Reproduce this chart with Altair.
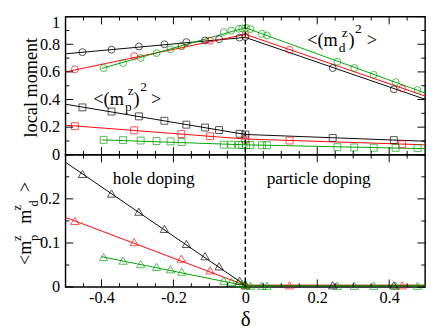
import altair as alt
import pandas as pd

FONT = "Liberation Serif"
W, H1, H2 = 375, 144, 138

# ---------------- data ----------------
# doping delta of each data point (three data sets: black, red, green)
x_black = [-0.453, -0.372, -0.296, -0.225, -0.164, -0.112, -0.073, -0.016, 0.0, 0.243, 0.413]
x_red = [-0.474, -0.309, -0.178, -0.098, 0.0, 0.123, 0.436]
x_green = [-0.394, -0.340, -0.291, -0.247, -0.208, -0.177, -0.060, -0.039, -0.018, -0.009,
           0.002, 0.014, 0.046, 0.060, 0.256, 0.303, 0.357, 0.418, 0.479]

# <(m_d^z)^2>  (circles)
md2_black = [0.743, 0.761, 0.784, 0.800, 0.816, 0.828, 0.837, 0.848, 0.853, 0.628, 0.474]
md2_red = [0.619, 0.715, 0.786, 0.826, 0.869, 0.761, 0.480]
md2_green = [0.628, 0.664, 0.701, 0.736, 0.763, 0.788, 0.888, 0.899, 0.912, 0.915,
             0.918, 0.910, 0.876, 0.864, 0.674, 0.628, 0.579, 0.526, 0.469]

# <(m_p^z)^2>  (squares)
mp2_black = [0.343, 0.313, 0.278, 0.246, 0.218, 0.197, 0.179, 0.152, 0.147, 0.122, 0.106]
mp2_red = [0.207, 0.177, 0.150, 0.134, 0.110, 0.103, 0.076]
mp2_green = [0.108, 0.106, 0.103, 0.099, 0.097, 0.092, 0.073, 0.073, 0.072, 0.071,
             0.070, 0.070, 0.069, 0.069, 0.055, 0.053, 0.051, 0.050, 0.048]

# <m_p^z m_d^z>  (triangles)
corr_black = [0.2565, 0.212, 0.171, 0.132, 0.098, 0.070, 0.047, 0.0145, 0.006, 0.004, 0.004]
corr_red = [0.150, 0.102, 0.0645, 0.038, 0.004, 0.004, 0.004]
corr_green = [0.068, 0.060, 0.052, 0.046, 0.0405, 0.035, 0.0145, 0.012, 0.009, 0.007,
              0.004, 0.003, 0.003, 0.003, 0.003, 0.003, 0.003, 0.003, 0.003]

# straight fit lines (vertices)
fit_x_black = [-0.5, 0.0, 0.5]
fit_x_red = [-0.5, 0.0, 0.5]
fit_x_green = [-0.40, 0.0, 0.5]
md2_fit_black = [0.731, 0.850, 0.402]
md2_fit_red = [0.600, 0.872, 0.425]
md2_fit_green = [0.625, 0.920, 0.447]
mp2_fit_black = [0.366, 0.147, 0.098]
mp2_fit_red = [0.214, 0.114, 0.072]
mp2_fit_green = [0.108, 0.072, 0.044]
corr_fit_black = [0.283, 0.004, 0.004]
corr_fit_red = [0.158, 0.004, 0.004]
corr_fit_green = [0.069, 0.003, 0.003]

# axis ticks
x_major = [-0.4, -0.2, 0.0, 0.2, 0.4]
x_minor = [-0.45, -0.35, -0.3, -0.25, -0.15, -0.1, -0.05, 0.05, 0.1, 0.15, 0.25, 0.3, 0.35, 0.45]
y_major_top = [0.0, 0.2, 0.4, 0.6, 0.8, 1.0]
y_minor_top = [0.1, 0.3, 0.5, 0.7, 0.9]
y_major_bot = [0.0, 0.1, 0.2, 0.3]
y_minor_bot = [0.05, 0.15, 0.25]
y_labels_top = [0.0, 0.2, 0.4, 0.6, 0.8, 1.0]
y_labels_bot = [0.0, 0.1, 0.2]

SERIES = ["black", "red", "green"]
COLORS = ["#000000", "#ff0000", "#00a000"]


def table(xs, ys_by_series, qty):
    rows = []
    for s, (xv, yv) in zip(SERIES, zip(xs, ys_by_series)):
        for i, (a, b) in enumerate(zip(xv, yv)):
            rows.append({"x": a, "y": b, "series": s, "qty": qty, "o": i})
    return pd.DataFrame(rows)


xs_pts = [x_black, x_red, x_green]
xs_fit = [fit_x_black, fit_x_red, fit_x_green]
top_pts = pd.concat([table(xs_pts, [md2_black, md2_red, md2_green], "md"),
                     table(xs_pts, [mp2_black, mp2_red, mp2_green], "mp")])
top_lines = pd.concat([table(xs_fit, [md2_fit_black, md2_fit_red, md2_fit_green], "md"),
                       table(xs_fit, [mp2_fit_black, mp2_fit_red, mp2_fit_green], "mp")])
bot_pts = table(xs_pts, [corr_black, corr_red, corr_green], "c")
bot_lines = table(xs_fit, [corr_fit_black, corr_fit_red, corr_fit_green], "c")

xscale = alt.Scale(domain=[-0.5, 0.5], nice=False, zero=False)
color = alt.Color("series:N", scale=alt.Scale(domain=SERIES, range=COLORS), legend=None)

MAJ, MIN = 8, 4


def ticks(xaxis, y_enc_fn, h, ymaj, ymin):
    layers = []
    for vals, L in ((ymaj, MAJ), (ymin, MIN)):
        d = pd.DataFrame({"y": vals})
        layers.append(alt.Chart(d).mark_rule(color="black", strokeWidth=1).encode(
            y=y_enc_fn(), x=alt.value(0), x2=alt.value(L)))
        layers.append(alt.Chart(d).mark_rule(color="black", strokeWidth=1).encode(
            y=y_enc_fn(), x=alt.value(W), x2=alt.value(W - L)))
    for vals, L in ((x_major, MAJ), (x_minor, MIN)):
        d = pd.DataFrame({"x": vals})
        layers.append(alt.Chart(d).mark_rule(color="black", strokeWidth=1).encode(
            x=alt.X("x:Q", scale=xscale, axis=xaxis), y=alt.value(0), y2=alt.value(L)))
        layers.append(alt.Chart(d).mark_rule(color="black", strokeWidth=1).encode(
            x=alt.X("x:Q", scale=xscale, axis=xaxis), y=alt.value(h), y2=alt.value(h - L)))
    return layers


ONE = pd.DataFrame({"k": [0]})


def txt(s, x, y, size, angle=0, align="left", baseline="alphabetic"):
    kw = dict(text=s, font=FONT, fontSize=size, align=align, baseline=baseline, color="black")
    if angle:
        kw["angle"] = angle
    return alt.Chart(ONE).mark_text(**kw).encode(x=alt.value(x), y=alt.value(y))


# ---------------- top panel ----------------
yaxis_top = alt.Axis(values=y_labels_top, format="~g", ticks=False, tickSize=0, domain=False,
                     grid=False, title=None, labelPadding=6,
                     labelOffset={"condition": {"test": "datum.value == 1", "value": 6.5}, "value": 0})
yscale_top = alt.Scale(domain=[0, 1], nice=False, zero=False)


def ytop():
    return alt.Y("y:Q", scale=yscale_top, axis=yaxis_top)


top_layers = [
    alt.Chart(top_lines).mark_line(strokeWidth=1).encode(
        x=alt.X("x:Q", scale=xscale, axis=None), y=ytop(), color=color,
        detail="qty:N", order="o:Q"),
    alt.Chart(top_pts).mark_point(filled=False, strokeWidth=1, size=52).encode(
        x=alt.X("x:Q", scale=xscale, axis=None), y=ytop(), color=color,
        shape=alt.Shape("qty:N", scale=alt.Scale(domain=["md", "mp"], range=["circle", "square"]),
                        legend=None)),
    alt.Chart(pd.DataFrame({"x": [0.0]})).mark_rule(color="black", strokeWidth=1.5,
                                                   strokeDash=[5, 3]).encode(
        x=alt.X("x:Q", scale=xscale, axis=None)),
]
top_layers += ticks(None, ytop, H1, y_major_top, y_minor_top)
top_layers += [
    txt("local moment", -30, 74, 19, angle=270, align="center"),
    # <(m_p^z)^2>
    txt("<(m", 29, 92, 19), txt("p", 62, 98, 14), txt("z", 65, 82, 14),
    txt(")", 71, 92, 19), txt("2", 78, 78, 14), txt(">", 89, 92, 19),
    # <(m_d^z)^2>
    txt("<(m", 252, 31, 19), txt("d", 285, 37, 14), txt("z", 288, 21, 14),
    txt(")", 295, 31, 19), txt("2", 302, 17, 14), txt(">", 314, 31, 19),
]
top = alt.layer(*top_layers).properties(width=W, height=H1)

# ---------------- bottom panel ----------------
yaxis_bot = alt.Axis(values=y_labels_bot, format="~g", ticks=False, tickSize=0, domain=False,
                     grid=False, title=None, labelPadding=6)
yscale_bot = alt.Scale(domain=[0, 0.3], nice=False, zero=False)
xaxis_bot = alt.Axis(values=x_major, format="~g", labelExpr="replace(datum.label, '\u2212', '-')",
                     ticks=False, tickSize=0, domain=False, grid=False, labelPadding=3,
                     title="\u03b4", titleFont=FONT, titleFontSize=22, titleFontWeight="normal",
                     titlePadding=4)


def ybot():
    return alt.Y("y:Q", scale=yscale_bot, axis=yaxis_bot)


bot_layers = [
    alt.Chart(bot_lines).mark_line(strokeWidth=1).encode(
        x=alt.X("x:Q", scale=xscale, axis=xaxis_bot), y=ybot(), color=color,
        detail="qty:N", order="o:Q"),
    alt.Chart(bot_pts).mark_point(filled=False, strokeWidth=1, size=75, shape="triangle-up").encode(
        x=alt.X("x:Q", scale=xscale, axis=xaxis_bot), y=ybot(), color=color),
    alt.Chart(pd.DataFrame({"x": [0.0]})).mark_rule(color="black", strokeWidth=1.5,
                                                   strokeDash=[5, 3]).encode(
        x=alt.X("x:Q", scale=xscale, axis=xaxis_bot)),
]
bot_layers += ticks(xaxis_bot, ybot, H2, y_major_bot, y_minor_bot)
bot_layers += [
    txt("hole doping", 92, 26, 18, align="center", baseline="middle"),
    txt("particle doping", 264, 26, 18, align="center", baseline="middle"),
    # rotated <m_p^z m_d^z>
    txt("<m", -36, 115, 19, angle=270), txt("p", -29, 90, 13, angle=270),
    txt("z", -46, 90, 13, angle=270), txt("m", -36, 72, 19, angle=270),
    txt("d", -29, 54, 13, angle=270), txt("z", -46, 58, 13, angle=270),
    txt(">", -36, 39, 19, angle=270),
]
bottom = alt.layer(*bot_layers).properties(width=W, height=H2)

chart = alt.vconcat(top, bottom, spacing=0, bounds="flush").properties(
    padding={"left": 3, "top": -2, "right": 0, "bottom": 0},
    background="white",
).configure_view(stroke="black", strokeWidth=1.5).configure_axis(
    labelFont=FONT, labelFontSize=17, labelColor="black", titleColor="black"
)

chart.save("out.html", embed_options={"renderer": "svg", "actions": False})
